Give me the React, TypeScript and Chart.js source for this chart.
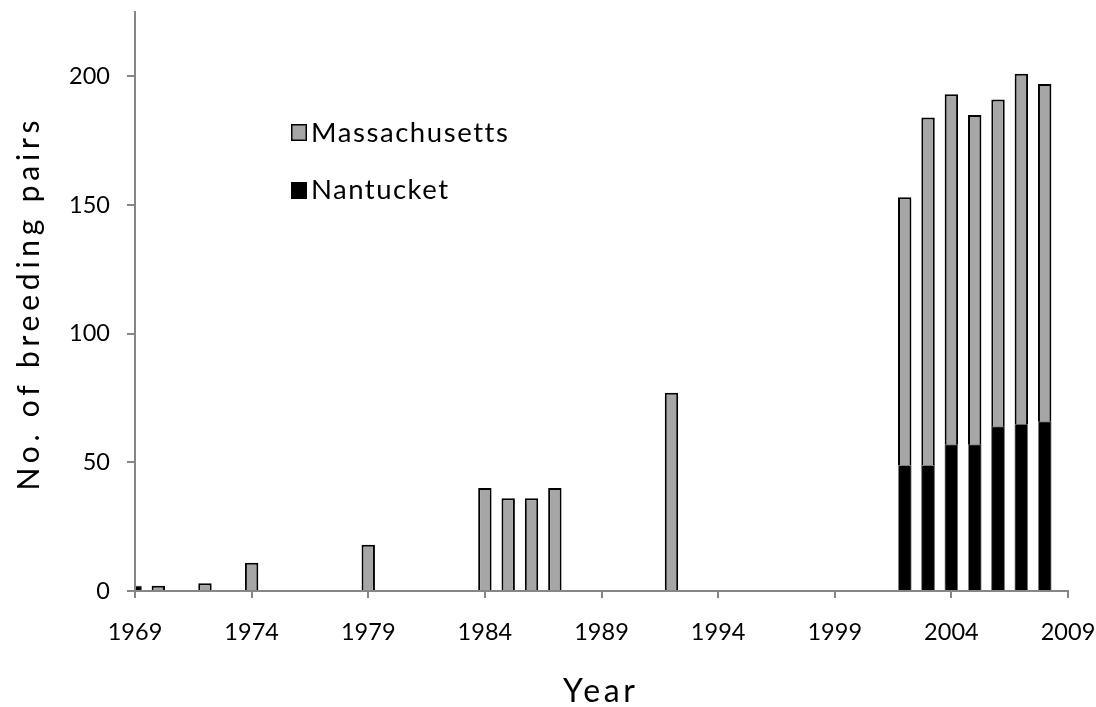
import React, { useEffect, useRef } from "react";
import { Chart, registerables } from "chart.js";

Chart.register(...registerables);

const years = [1969, 1970, 1972, 1974, 1979, 1984, 1985, 1986, 1987, 1992, 2002, 2003, 2004, 2005, 2006, 2007, 2008];
const massachusetts = [2, 2, 3, 11, 18, 40, 36, 36, 40, 77, 153, 184, 193, 185, 191, 201, 197];
const nantucket = [2, null, null, null, null, null, null, null, null, null, 49, 49, 57, 57, 64, 65, 66];
const seriesNames = ["Massachusetts", "Nantucket"];
const xTitle = "Year";
const yTitle = "No. of breeding pairs";

const FONT = "Lato, 'Open Sans', sans-serif";
const AXIS = "#868686";

function fitText(ctx: CanvasRenderingContext2D, text: string, total: number, left: number, y: number) {
  (ctx as any).letterSpacing = "0px";
  const w0 = ctx.measureText(text).width;
  const sp = (total - w0) / (text.length - 1);
  (ctx as any).letterSpacing = sp + "px";
  ctx.textAlign = "left";
  ctx.fillText(text, left, y);
  (ctx as any).letterSpacing = "0px";
}

const overlayPlugin = {
  id: "overlay",
  afterDraw(chart: any) {
    const ctx: CanvasRenderingContext2D = chart.ctx;
    const area = chart.chartArea;
    ctx.save();
    ctx.textBaseline = "alphabetic";
    // legend
    ctx.fillStyle = "#a6a6a6";
    ctx.fillRect(291, 124, 16, 17);
    ctx.strokeStyle = "#000";
    ctx.lineWidth = 1.5;
    ctx.strokeRect(291.75, 124.75, 14.5, 15.5);
    ctx.fillStyle = "#000";
    ctx.fillRect(291, 182, 16, 17);
    ctx.font = `27.5px ${FONT}`;
    fitText(ctx, seriesNames[0], 196, 311, 141.5);
    fitText(ctx, seriesNames[1], 137, 311, 199);
    // x title
    ctx.font = `32px ${FONT}`;
    fitText(ctx, xTitle, 72, 563, 702);
    // y title
    ctx.translate(39, (area.top + area.bottom) / 2 + 4);
    ctx.rotate(-Math.PI / 2);
    ctx.font = `30px ${FONT}`;
    fitText(ctx, yTitle, 370, -185, 0);
    ctx.restore();
  },
};

function zeroPad(s: any) {
  s.paddingLeft = 0;
  s.paddingRight = 0;
  s.paddingTop = 0;
  s.paddingBottom = 0;
}

export default function App() {
  const ref = useRef<HTMLCanvasElement>(null);
  useEffect(() => {
    document.body.style.margin = "0";
    const canvas = ref.current!;
    const maData = years.map((x, i) => ({ x, y: massachusetts[i] })).filter((d) => d.y !== null);
    const naData = years.map((x, i) => ({ x, y: nantucket[i] })).filter((d) => d.y !== null);
    const chart = new Chart(canvas, {
      type: "bar",
      data: {
        datasets: [
          {
            label: seriesNames[1],
            data: naData as any,
            backgroundColor: "#000000",
            borderColor: "#7f7f7f",
            borderWidth: 1,
            borderSkipped: "bottom",
            barPercentage: 0.575,
            categoryPercentage: 1,
            clip: 0,
          },
          {
            label: seriesNames[0],
            data: maData as any,
            backgroundColor: "#a6a6a6",
            borderColor: "#000000",
            borderWidth: 2,
            borderSkipped: "bottom",
            barPercentage: 0.575,
            categoryPercentage: 1,
            clip: 0,
          },
        ],
      },
      options: {
        responsive: false,
        animation: false,
        devicePixelRatio: 1,
        layout: { autoPadding: false, padding: { left: 0, top: 12, right: 28, bottom: 0 } },
        plugins: { legend: { display: false }, tooltip: { enabled: false } },
        font: { family: FONT },
        scales: {
          x: {
            type: "linear",
            min: 1969,
            max: 2009,
            offset: false,
            stacked: true,
            grid: { display: true, offset: false, drawOnChartArea: false, drawTicks: true, tickLength: 7, color: AXIS, lineWidth: 2 },
            border: { display: true, color: AXIS, width: 2, z: 1 },
            ticks: {
              stepSize: 5,
              autoSkip: false,
              maxRotation: 0,
              padding: 20,
              color: "#000",
              font: { family: FONT, size: 23.5 },
              callback: (v: any) => String(v),
            },
            afterFit: (s: any) => {
              s.height = 707 - 591;
              zeroPad(s);
            },
          },
          y: {
            type: "linear",
            min: 0,
            max: 225,
            stacked: false,
            grid: { display: true, drawOnChartArea: false, drawTicks: true, tickLength: 8, color: AXIS, lineWidth: 2 },
            border: { display: true, color: AXIS, width: 2, z: 1 },
            ticks: {
              stepSize: 50,
              includeBounds: false,
              padding: 17,
              color: "#000",
              font: { family: FONT, size: 23.5 },
            },
            afterFit: (s: any) => {
              s.width = 135;
              zeroPad(s);
            },
          },
        },
      } as any,
      plugins: [overlayPlugin],
    });
    return () => chart.destroy();
  }, []);
  return (
    <canvas
      ref={ref}
      width={1096}
      height={707}
      style={{ display: "block", width: 1096, height: 707, position: "absolute", left: 0, top: 0 }}
    />
  );
}
